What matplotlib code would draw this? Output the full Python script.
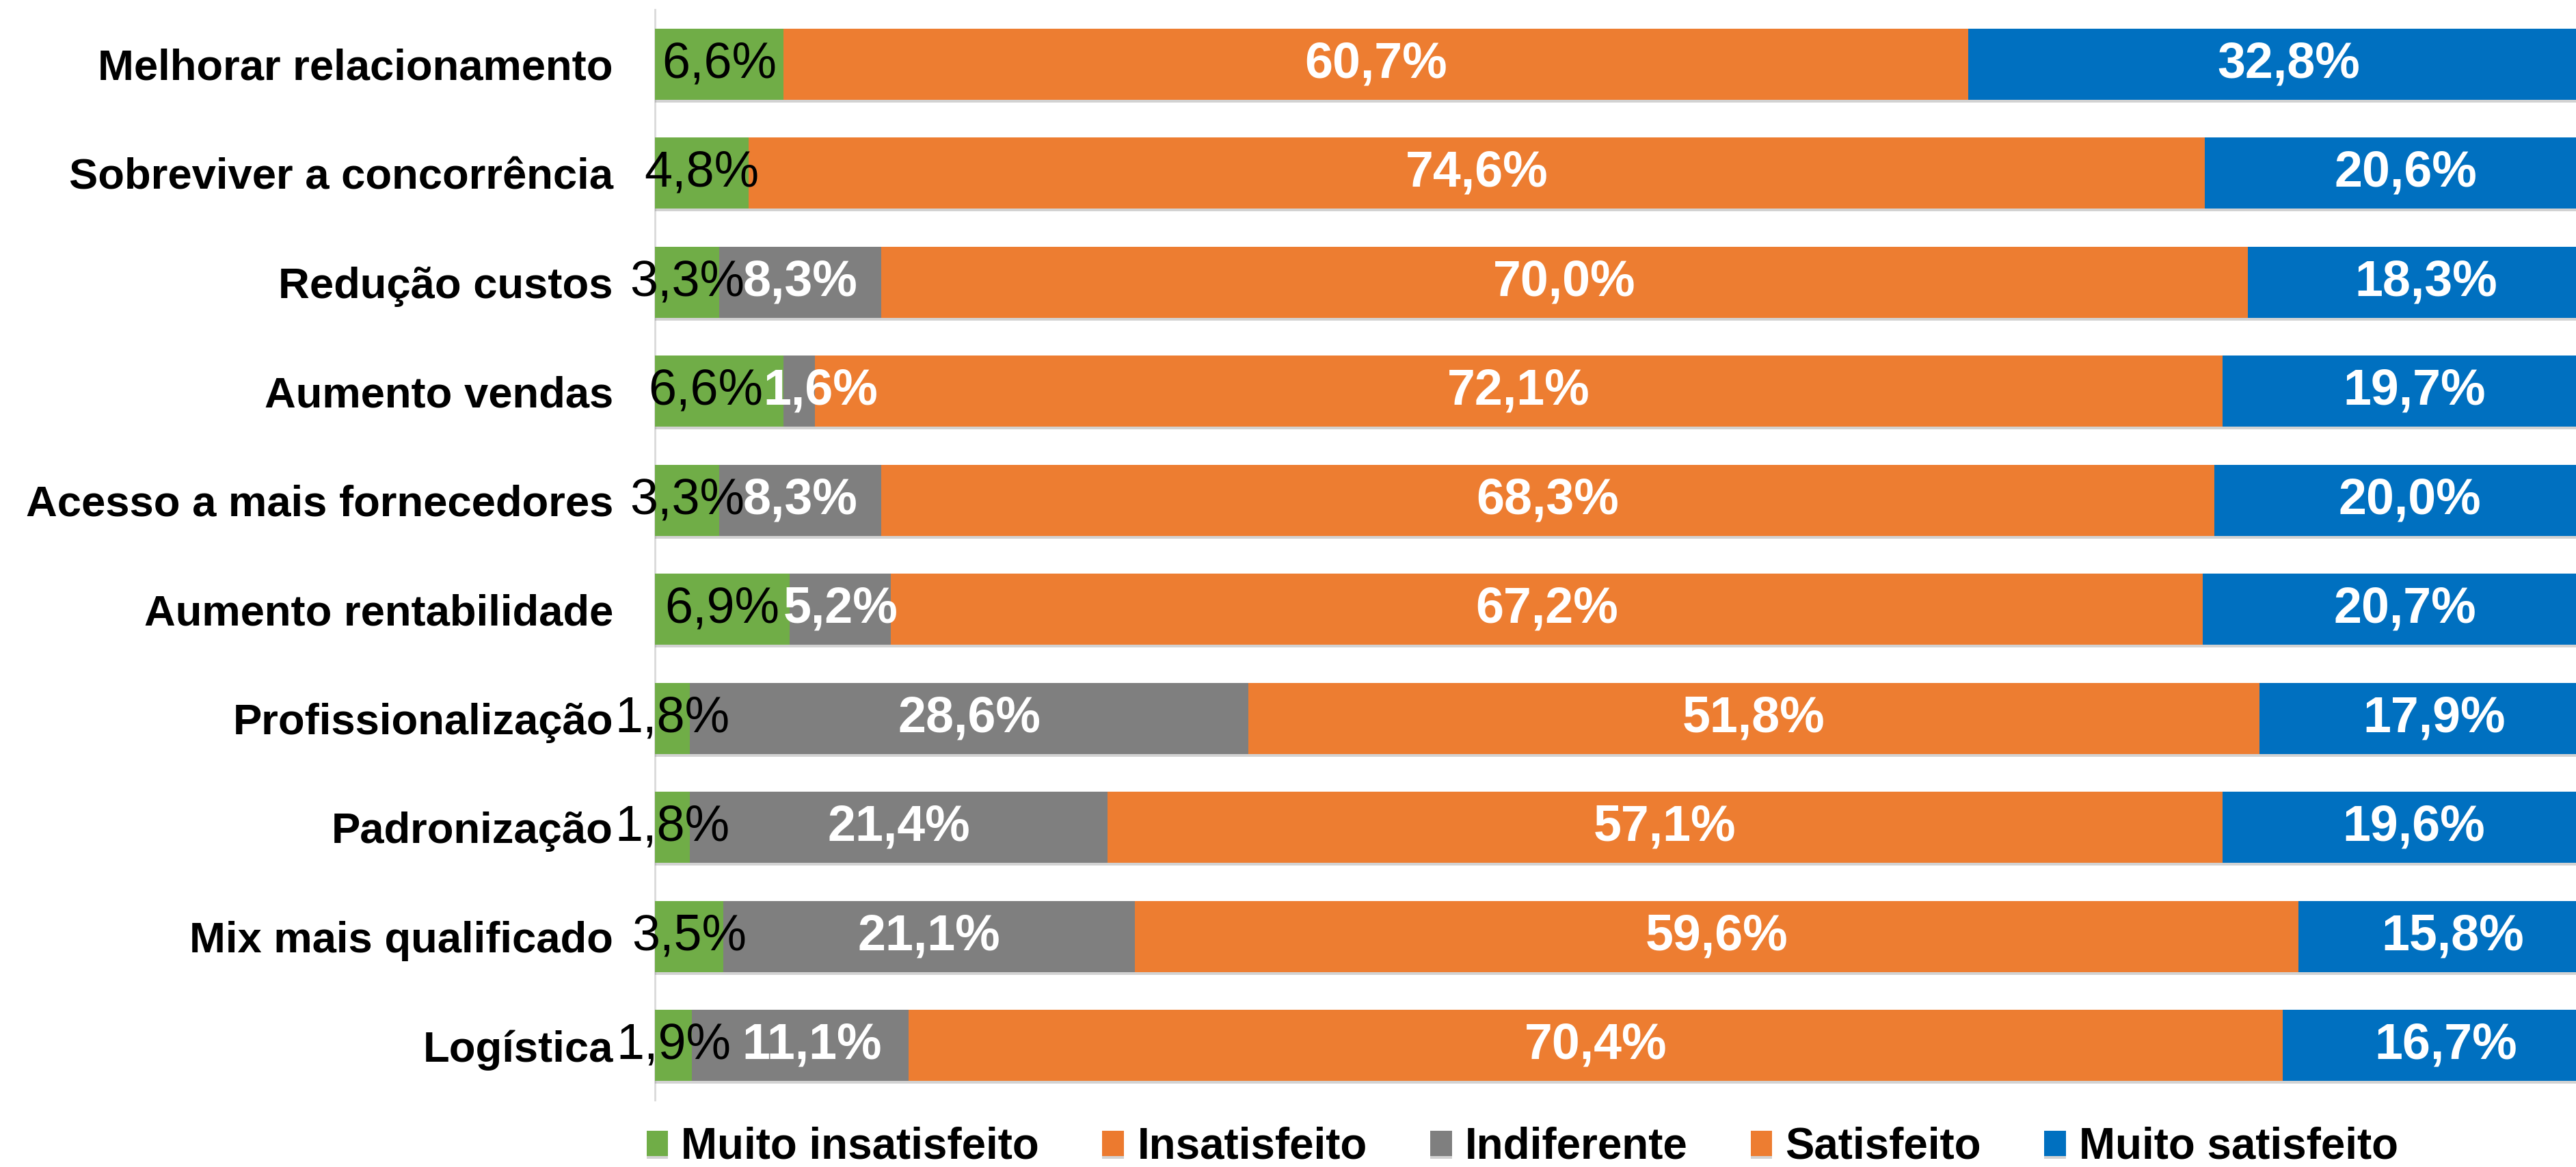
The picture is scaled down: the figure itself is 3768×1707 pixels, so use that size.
import numpy as np
import matplotlib
matplotlib.use("Agg")
import matplotlib.pyplot as plt
import matplotlib.patheffects as pe

plt.rcParams['font.family'] = ['Liberation Sans', 'DejaVu Sans']

# dados (de cima para baixo)
categorias = ["Melhorar relacionamento", "Sobreviver a concorrência", "Redução custos",
              "Aumento vendas", "Acesso a mais fornecedores", "Aumento rentabilidade",
              "Profissionalização", "Padronização", "Mix mais qualificado", "Logística"]
muito_insatisfeito = [6.6, 4.8, 3.3, 6.6, 3.3, 6.9, 1.8, 1.8, 3.5, 1.9]
insatisfeito = [0, 0, 0, 0, 0, 0, 0, 0, 0, 0]
indiferente = [0, 0, 8.3, 1.6, 8.3, 5.2, 28.6, 21.4, 21.1, 11.1]
satisfeito = [60.7, 74.6, 70.0, 72.1, 68.3, 67.2, 51.8, 57.1, 59.6, 70.4]
muito_satisfeito = [32.8, 20.6, 18.3, 19.7, 20.0, 20.7, 17.9, 19.6, 15.8, 16.7]

series = [
    ("Muito insatisfeito", muito_insatisfeito, "#70AD47"),
    ("Insatisfeito", insatisfeito, "#EC7A2F"),
    ("Indiferente", indiferente, "#7F7F7F"),
    ("Satisfeito", satisfeito, "#ED7D31"),
    ("Muito satisfeito", muito_satisfeito, "#0070C0"),
]

# rótulos deslocados à mão (linha, série) -> deslocamento em %
ajustes = {(3, "Muito insatisfeito"): -0.7, (3, "Indiferente"): 1.1,
           (9, "Indiferente"): 0.6}

fig = plt.figure(figsize=(37.68, 17.07), dpi=100)
# eixo: começa em x=958px, 100% = 2855px (passa um pouco da borda)
ax = fig.add_axes([958 / 3768, 98 / 1707, 2855 / 3768, 1595 / 1707])

y = np.arange(len(categorias))
left = np.zeros(len(categorias))
sombra = [pe.SimplePatchShadow(offset=(0, -3), shadow_rgbFace="#7F7F7F", alpha=0.35), pe.Normal()]

for nome, vals, cor in series:
    vals = np.array(vals, dtype=float)
    bars = ax.barh(y, vals, left=left, height=0.65, color=cor, label=nome, zorder=2)
    for b in bars:
        b.set_path_effects(sombra)
    for yi, (l, v) in enumerate(zip(left, vals)):
        if v <= 0:
            continue
        txt = f"{v:.1f}%".replace(".", ",")
        xc = l + v / 2 + ajustes.get((yi, nome), 0)
        if nome == "Muito insatisfeito":
            ax.text(xc, yi, txt, ha="center", va="center", fontsize=53,
                    color="black", zorder=5)
        else:
            ax.text(xc, yi, txt, ha="center", va="center", fontsize=53,
                    color="white", fontweight="bold", zorder=5)
    left += vals

ax.set_xlim(0, 100)
ax.set_ylim(len(categorias) - 0.5, -0.5)
ax.set_yticks(y)
ax.set_yticklabels(categorias, fontsize=45.6, fontweight="bold")
ax.tick_params(axis="y", length=0, pad=44)
ax.set_xticks([])
for s in ["top", "right", "bottom"]:
    ax.spines[s].set_visible(False)
ax.spines["left"].set_color("#D9D9D9")
ax.spines["left"].set_linewidth(2)
ax.spines["left"].set_zorder(1)

leg = fig.legend(loc="center", bbox_to_anchor=(0.591, 0.017), ncol=5, frameon=False,
                 prop={"size": 45.8, "weight": "bold"}, handlelength=0.5, handleheight=0.5,
                 handletextpad=0.3, columnspacing=1.45, borderaxespad=0, borderpad=0)

fig.savefig("out.png", dpi=100)
